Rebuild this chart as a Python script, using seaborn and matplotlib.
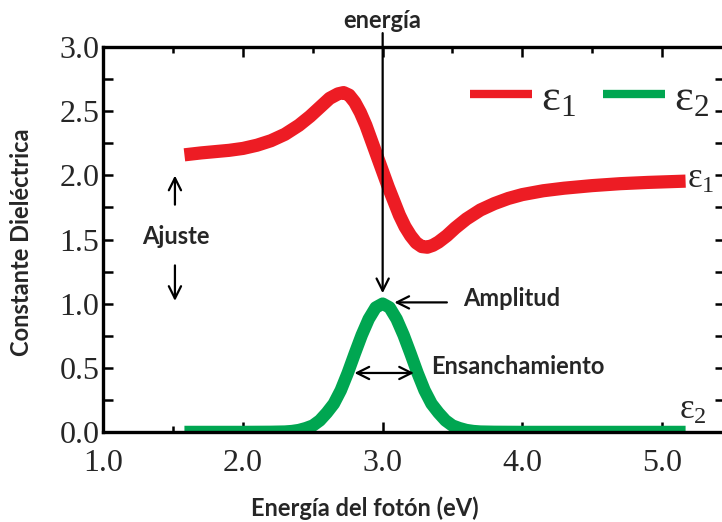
import numpy as np
import pandas as pd
import matplotlib.pyplot as plt
import seaborn as sns

# valores
energia_e1 = [1.58, 1.70, 1.80, 1.90, 2.00, 2.10, 2.20, 2.30, 2.40, 2.48, 2.55, 2.62,
              2.68, 2.72, 2.76, 2.80, 2.84, 2.88, 2.92, 2.96, 3.00, 3.04, 3.08, 3.12,
              3.16, 3.20, 3.24, 3.28, 3.32, 3.36, 3.40, 3.46, 3.52, 3.60, 3.70, 3.80,
              3.90, 4.00, 4.15, 4.30, 4.50, 4.70, 4.90, 5.17]
eps1 = [2.16, 2.175, 2.185, 2.195, 2.21, 2.235, 2.27, 2.32, 2.39, 2.46, 2.53, 2.60,
        2.635, 2.645, 2.625, 2.57, 2.49, 2.39, 2.27, 2.15, 2.03, 1.91, 1.80, 1.69,
        1.60, 1.53, 1.475, 1.445, 1.44, 1.455, 1.48, 1.53, 1.59, 1.66, 1.73, 1.78,
        1.82, 1.85, 1.88, 1.90, 1.92, 1.935, 1.945, 1.955]

energia_e2 = [1.58, 2.00, 2.20, 2.30, 2.35, 2.40, 2.45, 2.50, 2.55, 2.60, 2.65, 2.70,
              2.75, 2.80, 2.85, 2.90, 2.95, 3.00, 3.05, 3.10, 3.15, 3.20, 3.25, 3.30,
              3.35, 3.40, 3.45, 3.50, 3.55, 3.60, 3.65, 3.70, 3.80, 4.00, 4.50, 5.17]
eps2 = [0.0, 0.0, 0.001, 0.003, 0.007, 0.015, 0.03, 0.05, 0.09, 0.15, 0.22, 0.325,
        0.46, 0.61, 0.755, 0.88, 0.97, 1.0, 0.97, 0.88, 0.755, 0.61, 0.46, 0.325,
        0.22, 0.15, 0.09, 0.05, 0.03, 0.015, 0.007, 0.003, 0.001, 0.0, 0.0, 0.0]

xticks = [1.0, 2.0, 3.0, 4.0, 5.0]
yticks = [0.0, 0.5, 1.0, 1.5, 2.0, 2.5, 3.0]

rojo = '#ED1C24'
verde = '#00A651'

sns.set_style('ticks')
plt.rcParams['font.family'] = ['Lato', 'DejaVu Sans']
plt.rcParams['mathtext.fontset'] = 'custom'
plt.rcParams['mathtext.rm'] = 'Liberation Serif'
plt.rcParams['mathtext.it'] = 'Liberation Serif:italic'

fig = plt.figure(figsize=(7.22, 5.22), dpi=100)
ax = fig.add_axes([0.1433, 0.1724, 0.8604, 0.7375])

df1 = pd.DataFrame({'E': energia_e1, 'eps': eps1})
df2 = pd.DataFrame({'E': energia_e2, 'eps': eps2})
sns.lineplot(data=df1, x='E', y='eps', sort=False, color=rojo, linewidth=9.5,
             solid_capstyle='butt', label=r'$\mathrm{ε_1}$', ax=ax)
sns.lineplot(data=df2, x='E', y='eps', sort=False, color=verde, linewidth=9,
             solid_capstyle='butt', label=r'$\mathrm{ε_2}$', ax=ax)

ax.set_xlim(1.0, 5.45)
ax.set_ylim(0.0, 3.0)
ax.set_xticks(xticks)
ax.set_xticklabels(['%.1f' % v for v in xticks])
ax.set_yticks(yticks)
ax.set_yticklabels(['%.1f' % v for v in yticks])
ax.set_xticks(np.arange(1.5, 5.5, 1.0), minor=True)
ax.set_yticks(np.arange(0.25, 3.0, 0.5), minor=True)
ax.tick_params(which='both', direction='in', top=True, right=True, width=1.8,
               color='black', labelfontfamily='Liberation Serif', labelsize=23)
ax.tick_params(which='major', length=7)
ax.tick_params(axis='x', which='minor', length=4.5)
ax.tick_params(axis='y', which='minor', length=7)
ax.tick_params(axis='x', pad=12)
ax.tick_params(axis='y', pad=3)
for s in ax.spines.values():
    s.set_linewidth(2.4)
    s.set_color('black')
ax.set_xlabel('')
ax.set_ylabel('')

fs = 17
fig.text(365 / 722, 1 - 508 / 522, 'Energía del fotón (eV)', ha='center', va='center',
         fontsize=fs, fontweight='bold')
fig.text(22 / 722, 1 - 242 / 522, 'Constante Dieléctrica', ha='center', va='center',
         rotation=90, fontsize=fs, fontweight='bold')

leg = ax.legend(ncol=2, loc='center left', bbox_to_anchor=(0.59, 0.87), frameon=False,
                fontsize=32, handlelength=1.4, handletextpad=0.2, columnspacing=0.6,
                borderpad=0, borderaxespad=0)
for h in leg.get_lines():
    h.set_linewidth(6)
    h.set_solid_capstyle('butt')

# etiquetas al final de las curvas
ax.text(5.18, 1.97, r'$\mathrm{ε_1}$', fontsize=25, ha='left', va='center')
ax.text(5.12, 0.17, r'$\mathrm{ε_2}$', fontsize=25, ha='left', va='center')

flecha = dict(arrowstyle='->', lw=1.6, color='black', mutation_scale=22)
ax.text(3.0, 3.21, 'energía', ha='center', va='center', fontsize=fs, fontweight='bold')
ax.annotate('', xy=(3.0, 1.06), xytext=(3.0, 3.13), arrowprops=flecha, annotation_clip=False)

ax.text(3.575, 1.04, 'Amplitud', ha='left', va='center', fontsize=fs, fontweight='bold')
ax.annotate('', xy=(3.064, 1.01), xytext=(3.48, 1.01), arrowprops=flecha)

ax.text(3.35, 0.51, 'Ensanchamiento', ha='left', va='center', fontsize=fs, fontweight='bold')
ax.annotate('', xy=(2.778, 0.46), xytext=(3.244, 0.46),
            arrowprops=dict(arrowstyle='<->', lw=1.6, color='black', mutation_scale=22))

ax.text(1.52, 1.52, 'Ajuste', ha='center', va='center', fontsize=fs, fontweight='bold')
ax.annotate('', xy=(1.512, 2.02), xytext=(1.512, 1.75), arrowprops=flecha)
ax.annotate('', xy=(1.512, 1.00), xytext=(1.512, 1.32), arrowprops=flecha)

fig.savefig('out.png', dpi=100)
